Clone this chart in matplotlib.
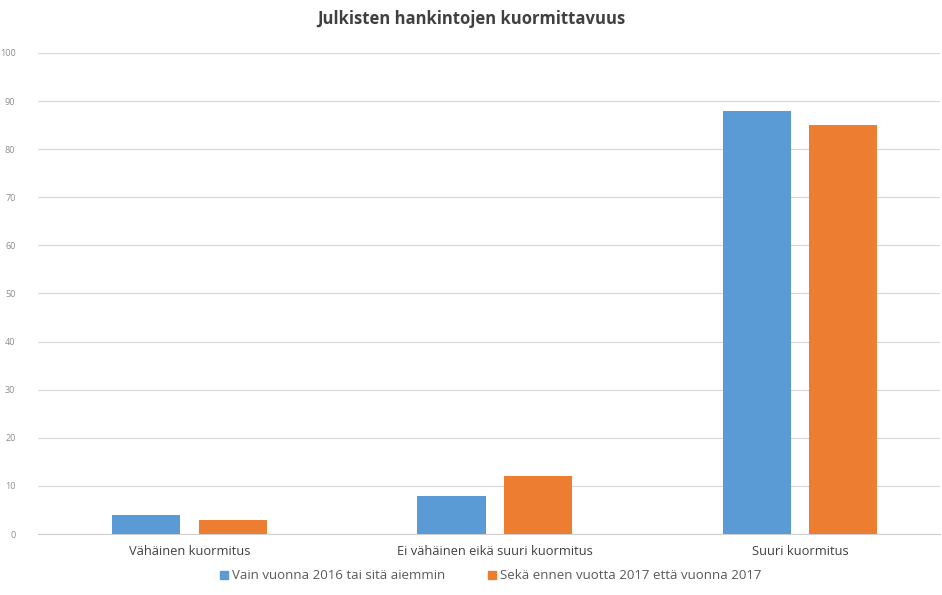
import numpy as np
import matplotlib.pyplot as plt
from matplotlib.patches import Patch

categories = ["Vähäinen kuormitus", "Ei vähäinen eikä suuri kuormitus", "Suuri kuormitus"]
series_names = ["Vain vuonna 2016 tai sitä aiemmin", "Sekä ennen vuotta 2017 että vuonna 2017"]
only_2016 = [4, 8, 88]
both_years = [3, 12, 85]
yticks = list(range(0, 101, 10))

blue = "#5B9BD5"
orange = "#ED7D31"

plt.rcParams['font.family'] = ['Open Sans', 'DejaVu Sans']

fig = plt.figure(figsize=(9.42, 5.95), dpi=100)
ax = fig.add_axes([0.040, 0.1025, 0.958, 0.8085])

x = np.arange(len(categories))
w = 0.223
off = 0.142
ax.bar(x - off, only_2016, w, color=blue, zorder=3)
ax.bar(x + off, both_years, w, color=orange, zorder=3)

ax.set_xlim(-0.498, 2.459)
ax.set_ylim(0, 100)
ax.set_yticks(yticks)
ax.set_yticklabels([str(t) for t in yticks], fontsize=6.5, color="#8c8c8c")
ax.set_xticks(x)
ax.set_xticklabels(categories, fontsize=9.3, color="#404040")
ax.tick_params(axis="both", length=0)
ax.tick_params(axis="y", pad=16)
ax.tick_params(axis="x", pad=8)
ax.yaxis.grid(True, color="#d9d9d9", linewidth=0.9, zorder=0)
for s in ["top", "right", "left"]:
    ax.spines[s].set_visible(False)
ax.spines["bottom"].set_color("#d0d0d0")

fig.text(0.5, 0.968, "Julkisten hankintojen kuormittavuus", ha="center", va="center",
         fontsize=12, fontweight="bold", color="#404040")

handles = [Patch(color=blue), Patch(color=orange)]
fig.legend(handles, series_names, loc="center", bbox_to_anchor=(0.521, 0.032), ncol=2,
           frameon=False, fontsize=9.5, handlelength=0.55, handleheight=0.55,
           handletextpad=0.3, columnspacing=3.3, labelcolor="#595959")

fig.savefig("out.png", dpi=100)
